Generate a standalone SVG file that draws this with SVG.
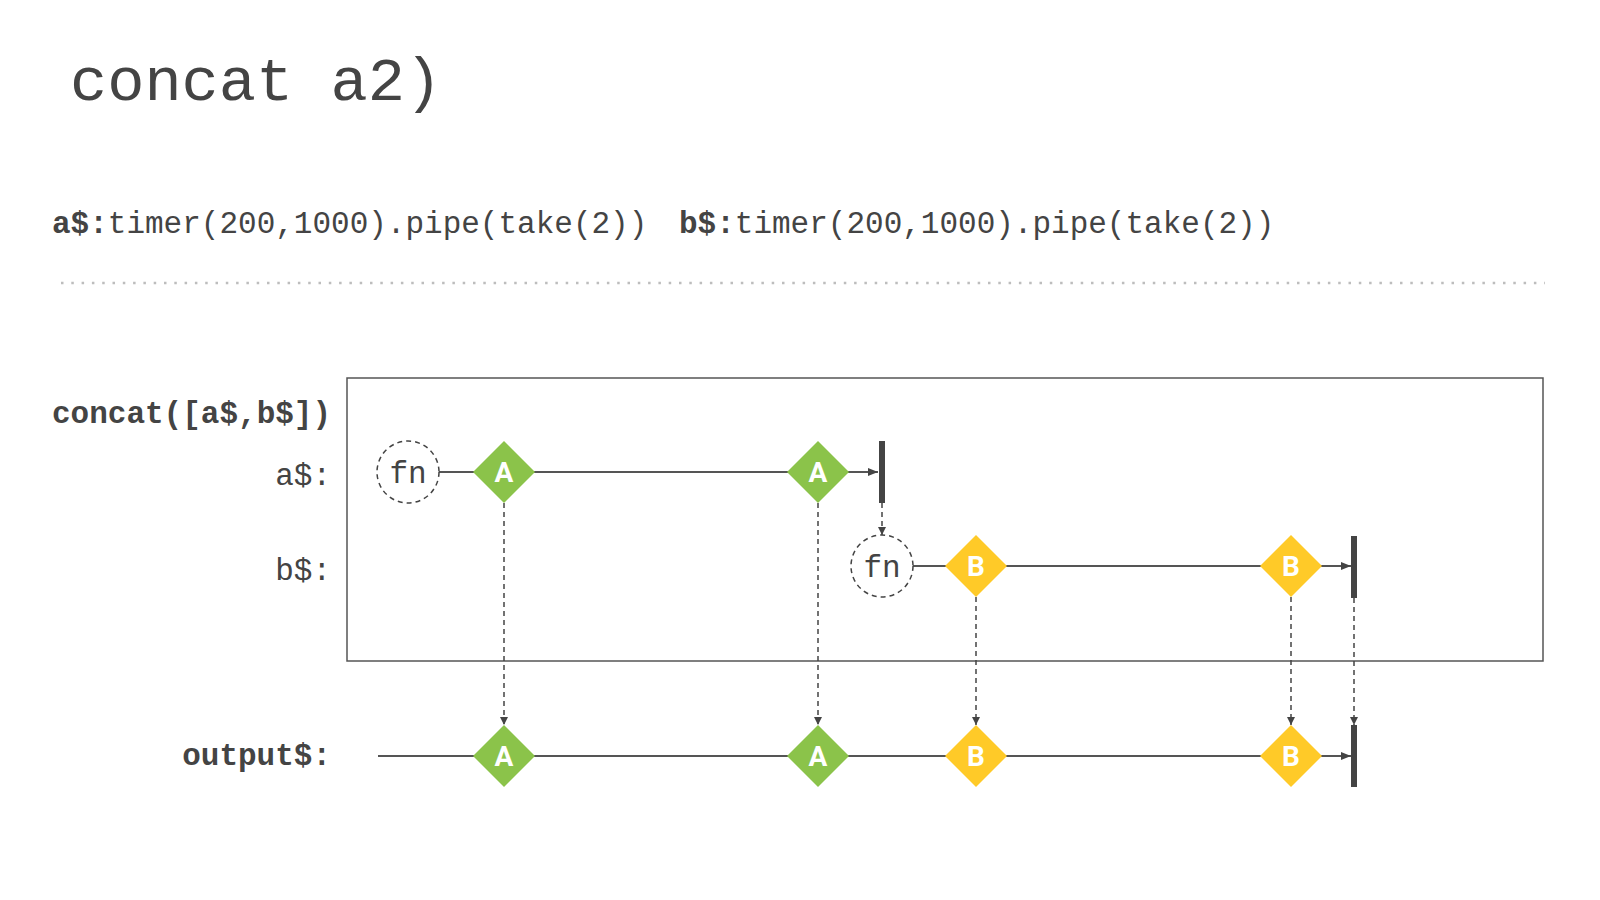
<svg xmlns="http://www.w3.org/2000/svg" width="1600" height="900" viewBox="0 0 1600 900">
<style>
.mono{font-family:"Liberation Mono","DejaVu Sans Mono",monospace;fill:#444}
.b{font-weight:bold}
.tl{stroke:#555;stroke-width:2;fill:none}
.dash{stroke:#444;stroke-width:1.5;stroke-dasharray:5 4;fill:none}
.ga{fill:#8BC34A}
.yb{fill:#FFCA28}
.lt{font-family:"Roboto","Liberation Sans",sans-serif;font-weight:bold;font-size:28px;fill:#fff;text-anchor:middle}
.fn{fill:#fff;stroke:#444;stroke-width:1.5;stroke-dasharray:5 4}
.fnt{font-family:"Liberation Mono","DejaVu Sans Mono",monospace;font-size:31px;fill:#444;text-anchor:middle}
.bar{fill:#444}
</style>
<defs>
<marker id="ah" viewBox="0 0 10 8" refX="10" refY="4" markerWidth="10" markerHeight="8" markerUnits="userSpaceOnUse" orient="auto">
<path d="M0,0 L10,4 L0,8 Z" fill="#444"/>
</marker>
<marker id="ahs" viewBox="0 0 8 8" refX="8" refY="4" markerWidth="8" markerHeight="8" markerUnits="userSpaceOnUse" orient="auto">
<path d="M0,0 L8,4 L0,8 Z" fill="#444"/>
</marker>
</defs>
<rect width="1600" height="900" fill="#fff"/>
<text id="title" class="mono" x="70" y="100" font-size="62">concat a2)</text>
<g id="subtitle">
<text class="mono" x="52" y="233" font-size="31"><tspan class="b">a$:</tspan>timer(200,1000).pipe(take(2))</text>
<text class="mono" x="679" y="233" font-size="31"><tspan class="b">b$:</tspan>timer(200,1000).pipe(take(2))</text>
</g>
<line x1="61" y1="283" x2="1545" y2="283" stroke="#bdbdbd" stroke-width="2.5" stroke-dasharray="2.5 7.8"/>
<g id="box">
<rect x="347" y="378" width="1196" height="283" fill="none" stroke="#555" stroke-width="1.5"/>
</g>
<g id="labels">
<text class="mono b" x="52" y="423" font-size="31">concat([a$,b$])</text>
<text class="mono" x="331" y="485" font-size="31" text-anchor="end">a$:</text>
<text class="mono" x="331" y="580" font-size="31" text-anchor="end">b$:</text>
<text class="mono b" x="331" y="765" font-size="31" text-anchor="end">output$:</text>
</g>
<g id="connectors">
<line class="tl" x1="439" y1="472" x2="878" y2="472" marker-end="url(#ah)"/>
<line class="tl" x1="913" y1="566" x2="1351" y2="566" marker-end="url(#ah)"/>
<line class="tl" x1="378" y1="756" x2="1351" y2="756" marker-end="url(#ah)"/>
<line class="dash" x1="882" y1="503" x2="882" y2="535" marker-end="url(#ahs)"/>
<line class="dash" x1="504" y1="503" x2="504" y2="725" marker-end="url(#ahs)"/>
<line class="dash" x1="818" y1="503" x2="818" y2="725" marker-end="url(#ahs)"/>
<line class="dash" x1="976" y1="597" x2="976" y2="725" marker-end="url(#ahs)"/>
<line class="dash" x1="1291" y1="597" x2="1291" y2="725" marker-end="url(#ahs)"/>
<line class="dash" x1="1354" y1="598" x2="1354" y2="725" marker-end="url(#ahs)"/>
</g>
<g id="fn-a"><circle class="fn" cx="408" cy="472" r="31"/><text class="fnt" x="408" y="483">fn</text></g>
<g id="a1"><path class="ga" d="M504,441 L535,472 L504,503 L473,472 Z"/><text class="lt" x="504" y="482">A</text></g>
<g id="a2"><path class="ga" d="M818,441 L849,472 L818,503 L787,472 Z"/><text class="lt" x="818" y="482">A</text></g>
<g id="end-a"><rect class="bar" x="879" y="441" width="6" height="62"/></g>
<g id="fn-b"><circle class="fn" cx="882" cy="566" r="31"/><text class="fnt" x="882" y="577">fn</text></g>
<g id="b1"><path class="yb" d="M976,535 L1007,566 L976,597 L945,566 Z"/><text class="lt" x="976" y="576">B</text></g>
<g id="b2"><path class="yb" d="M1291,535 L1322,566 L1291,597 L1260,566 Z"/><text class="lt" x="1291" y="576">B</text></g>
<g id="end-b"><rect class="bar" x="1351" y="536" width="6" height="62"/></g>
<g id="oa1"><path class="ga" d="M504,725 L535,756 L504,787 L473,756 Z"/><text class="lt" x="504" y="766">A</text></g>
<g id="oa2"><path class="ga" d="M818,725 L849,756 L818,787 L787,756 Z"/><text class="lt" x="818" y="766">A</text></g>
<g id="ob1"><path class="yb" d="M976,725 L1007,756 L976,787 L945,756 Z"/><text class="lt" x="976" y="766">B</text></g>
<g id="ob2"><path class="yb" d="M1291,725 L1322,756 L1291,787 L1260,756 Z"/><text class="lt" x="1291" y="766">B</text></g>
<g id="end-o"><rect class="bar" x="1351" y="725" width="6" height="62"/></g>
</svg>
